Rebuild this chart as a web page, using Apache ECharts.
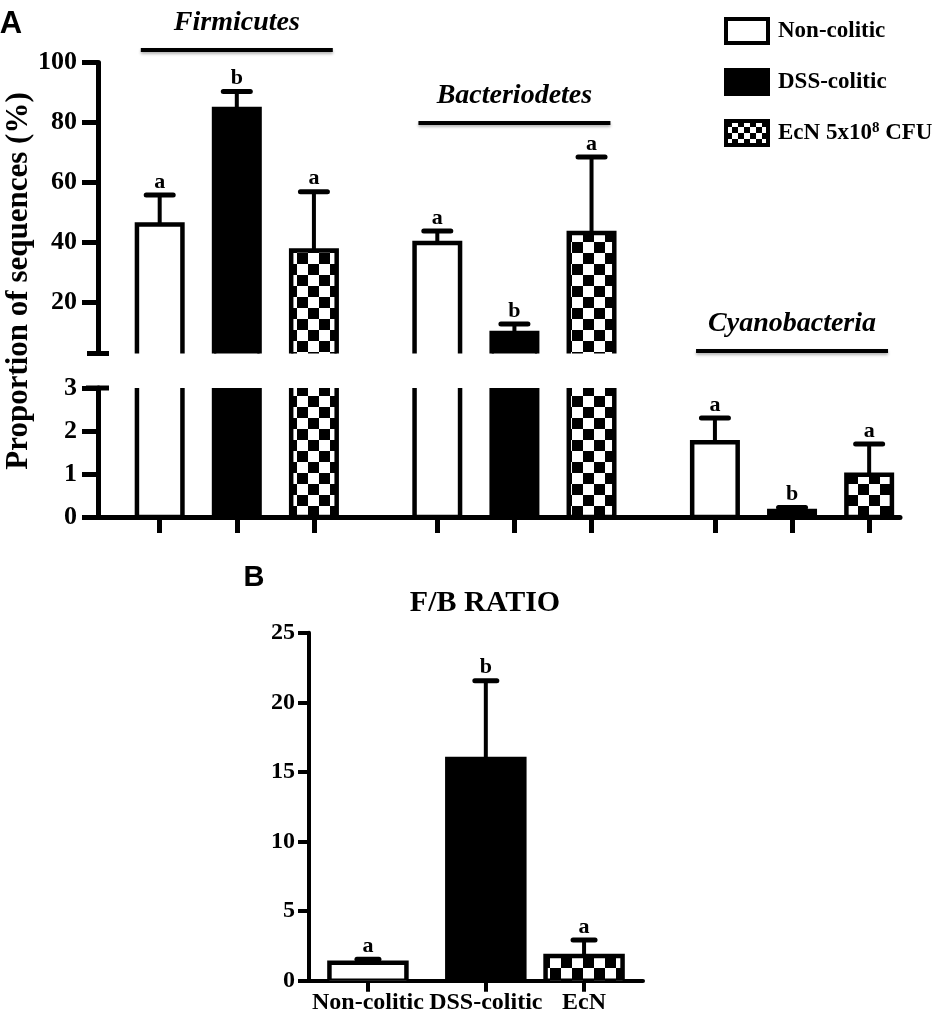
<!DOCTYPE html>
<html>
<head>
<meta charset="utf-8">
<script src="https://cdn.jsdelivr.net/npm/echarts@6/dist/echarts.min.js"></script>
<style>
html, body { margin: 0; padding: 0; background: #fff; }
#main { width: 950px; height: 1019px; }
</style>
</head>
<body>
<div id="main"></div>
<script>
// ---- data ----
var groups = ['Firmicutes', 'Bacteriodetes', 'Cyanobacteria'];
var treatments = ['Non-colitic', 'DSS-colitic', 'EcN 5x10⁸ CFU'];

var nonColiticMean = [46.0, 39.8, 1.74];
var nonColiticErr  = [9.8, 4.0, 0.56];
var dssColiticMean = [84.5, 9.8, 0.14];
var dssColiticErr  = [5.8, 3.0, 0.08];
var ecnMean        = [37.3, 43.2, 0.98];
var ecnErr         = [19.6, 25.3, 0.72];

var nonColiticLetters = ['a', 'a', 'a'];
var dssColiticLetters = ['b', 'b', 'b'];
var ecnLetters        = ['a', 'a', 'a'];

var upperTicks = [20, 40, 60, 80, 100];
var lowerTicks = [0, 1, 2, 3];

var fbCategories = ['Non-colitic', 'DSS-colitic', 'EcN'];
var fbMean    = [1.29, 15.93, 1.77];
var fbErr     = [0.25, 5.62, 1.15];
var fbLetters = ['a', 'b', 'a'];
var fbTicks   = [0, 5, 10, 15, 20, 25];

// ---- layout ----
var SERIF = "'Liberation Serif', 'Times New Roman', serif";
var SANS = "'Liberation Sans', Arial, sans-serif";

// axis ranges: upper / lower part of the broken axis, and panel B
var ranges = [[3, 100], [0, 3], [0, 25]];

// panel A: 53 thin slots on a category axis, bars every 5 slots, groups 18 apart
var SLOTS_A = 53;
function slotA(g, t) { return 4 + g * 18 + t * 5; }
var catsA = [];
for (var i = 0; i < SLOTS_A; i++) catsA.push('');
var tickSlotsA = [];
groups.forEach(function (g, gi) {
    treatments.forEach(function (t, ti) { tickSlotsA.push(slotA(gi, ti)); });
});
// panel B: 18 thin slots
var slotsB = [3, 9, 14];
var catsB = [];
for (var j = 0; j < 18; j++) catsB.push('');
slotsB.forEach(function (s, k) { catsB[s] = fbCategories[k]; });

// level (upper axis units) of the rule under each phylum name
var groupLineLevel = [104.2, 79.8, 3.8];

function checker(cell) {
    var c = document.createElement('canvas');
    c.width = c.height = cell * 2;
    var ctx = c.getContext('2d');
    ctx.fillStyle = '#fff';
    ctx.fillRect(0, 0, cell * 2, cell * 2);
    ctx.fillStyle = '#000';
    ctx.fillRect(0, 0, cell, cell);
    ctx.fillRect(cell, cell, cell, cell);
    return c;
}
var barPattern = { image: checker(11), repeat: 'repeat' };
var legendPattern = { image: checker(6), repeat: 'repeat' };
var fills = ['#fff', '#000', barPattern];

// bar + error bar + letter, drawn through the axis scales
function barSeries(name, idx, slots, mean, err, letters, fill, barW, capHalf) {
    var lo = ranges[idx][0], hi = ranges[idx][1];
    return {
        type: 'custom',
        name: name,
        xAxisIndex: idx,
        yAxisIndex: idx,
        clip: true,
        silent: true,
        encode: { x: 0, y: 1 },
        itemStyle: { color: fill, borderColor: '#000', borderWidth: 4 },
        data: mean.map(function (v, k) { return [slots[k], v, err[k]]; }),
        renderItem: function (params, api) {
            var x = api.value(0), m = api.value(1), s = api.value(2);
            var top = api.coord([x, m]);
            var base = api.coord([x, 0]);
            var cap = api.coord([x, m + s]);
            var children = [
                { type: 'rect', shape: { x: top[0] - barW / 2, y: top[1], width: barW, height: base[1] - top[1] },
                  style: { fill: fill, stroke: '#000', lineWidth: 4.5 } },
                { type: 'line', shape: { x1: top[0], y1: top[1], x2: cap[0], y2: cap[1] },
                  style: { stroke: '#000', lineWidth: 4 } }
            ];
            // the cap and letter only where the error bar ends inside this axis part
            if (m + s >= lo && m + s <= hi) {
                children.push({ type: 'line', shape: { x1: cap[0] - capHalf, y1: cap[1], x2: cap[0] + capHalf, y2: cap[1] },
                    style: { stroke: '#000', lineWidth: 5, lineCap: 'round' } });
                children.push({ type: 'text', x: cap[0], y: cap[1] - 13,
                    style: { text: letters[params.dataIndex], fill: '#000', font: 'bold 22px ' + SERIF,
                             align: 'center', verticalAlign: 'middle' } });
            }
            return { type: 'group', children: children };
        }
    };
}

var slotsPerTreat = treatments.map(function (t, ti) {
    return groups.map(function (g, gi) { return slotA(gi, ti); });
});
var meansA = [nonColiticMean, dssColiticMean, ecnMean];
var errsA = [nonColiticErr, dssColiticErr, ecnErr];
var lettersA = [nonColiticLetters, dssColiticLetters, ecnLetters];

var series = [];
[0, 1].forEach(function (gridIdx) {
    treatments.forEach(function (t, ti) {
        series.push(barSeries(t, gridIdx, slotsPerTreat[ti], meansA[ti], errsA[ti], lettersA[ti], fills[ti], 45.5, 13.5));
    });
});
// panel B, one series per treatment so the legend style matches
treatments.forEach(function (t, ti) {
    series.push(barSeries(t, 2, [slotsB[ti]], [fbMean[ti]], [fbErr[ti]], [fbLetters[ti]], fills[ti], 77, 11));
});
// phylum names with the rule under them
series.push({
    type: 'custom',
    xAxisIndex: 0,
    yAxisIndex: 0,
    clip: false,
    silent: true,
    encode: { x: 0, y: 1 },
    data: groups.map(function (g, gi) { return [slotA(gi, 1), groupLineLevel[gi]]; }),
    renderItem: function (params, api) {
        var p = api.coord([api.value(0), api.value(1)]);
        return {
            type: 'group',
            children: [
                { type: 'line', shape: { x1: p[0] - 96, y1: p[1], x2: p[0] + 96, y2: p[1] },
                  style: { stroke: '#000', lineWidth: 4, shadowBlur: 3, shadowOffsetY: 2, shadowColor: 'rgba(0,0,0,0.3)' } },
                { type: 'text', x: p[0], y: p[1] - 27,
                  style: { text: groups[params.dataIndex], fill: '#000', font: 'italic bold 28px ' + SERIF,
                           align: 'center', verticalAlign: 'middle' } }
            ]
        };
    }
});

var axisLineA = { show: true, onZero: false, lineStyle: { color: '#000', width: 5 } };

var myChart = echarts.init(document.getElementById('main'));

var option = {
    animation: false,
    backgroundColor: '#fff',
    legend: {
        orient: 'vertical',
        left: 719,
        top: 12,
        itemWidth: 42,
        itemHeight: 24,
        itemGap: 23,
        icon: 'rect',
        selectedMode: false,
        data: [
            { name: treatments[0], itemStyle: { color: '#fff', borderColor: '#000', borderWidth: 4 } },
            { name: treatments[1], itemStyle: { color: '#000', borderColor: '#000', borderWidth: 4 } },
            { name: treatments[2], itemStyle: { color: legendPattern, borderColor: '#000', borderWidth: 4 } }
        ],
        formatter: function (name) { return name.replace('⁸', '{sup|8}'); },
        textStyle: {
            color: '#000', fontFamily: SERIF, fontWeight: 'bold', fontSize: 23,
            padding: [0, 0, 0, 5],
            rich: {
                sup: { color: '#000', fontFamily: SERIF, fontWeight: 'bold', fontSize: 15, padding: [0, 0, 9, 0] }
            }
        }
    },
    grid: [
        { left: 98, top: 62.5, width: 802, height: 291, outerBoundsMode: 'none' },
        { left: 98, top: 388, width: 802, height: 129, outerBoundsMode: 'none' },
        { left: 309, top: 632.7, width: 334, height: 348, outerBoundsMode: 'none' }
    ],
    xAxis: [
        { gridIndex: 0, type: 'category', data: catsA, boundaryGap: false, show: false },
        {
            gridIndex: 1, type: 'category', data: catsA, boundaryGap: false,
            axisLine: axisLineA,
            axisTick: { show: true, length: 16, lineStyle: { color: '#000', width: 5 },
                        interval: function (idx) { return tickSlotsA.indexOf(idx) >= 0; } },
            axisLabel: { show: false },
            splitLine: { show: false }
        },
        {
            gridIndex: 2, type: 'category', data: catsB, boundaryGap: false,
            axisLine: { show: true, onZero: false, lineStyle: { color: '#000', width: 4 } },
            axisTick: { show: true, length: 11, lineStyle: { color: '#000', width: 4 },
                        interval: function (idx) { return slotsB.indexOf(idx) >= 0; } },
            axisLabel: { interval: function (idx) { return slotsB.indexOf(idx) >= 0; },
                         color: '#000', fontFamily: SERIF, fontWeight: 'bold', fontSize: 24, margin: 10 },
            splitLine: { show: false }
        }
    ],
    yAxis: [
        {
            gridIndex: 0, type: 'value', min: ranges[0][0], max: ranges[0][1],
            axisLine: axisLineA,
            axisTick: { show: true, customValues: upperTicks, length: 16, lineStyle: { color: '#000', width: 5 } },
            axisLabel: { customValues: upperTicks, color: '#000', fontFamily: SERIF, fontWeight: 'bold', fontSize: 26, margin: 21 },
            splitLine: { show: false }
        },
        {
            gridIndex: 1, type: 'value', min: ranges[1][0], max: ranges[1][1],
            axisLine: axisLineA,
            axisTick: { show: true, customValues: lowerTicks, length: 16, lineStyle: { color: '#000', width: 5 } },
            axisLabel: { customValues: lowerTicks, color: '#000', fontFamily: SERIF, fontWeight: 'bold', fontSize: 26, margin: 21 },
            splitLine: { show: false }
        },
        {
            gridIndex: 2, type: 'value', min: ranges[2][0], max: ranges[2][1],
            axisLine: { show: true, onZero: false, lineStyle: { color: '#000', width: 4 } },
            axisTick: { show: true, customValues: fbTicks, length: 11, lineStyle: { color: '#000', width: 4 } },
            axisLabel: { customValues: fbTicks, color: '#000', fontFamily: SERIF, fontWeight: 'bold', fontSize: 24, margin: 14 },
            splitLine: { show: false }
        }
    ],
    series: series
};

myChart.setOption(option);

// axis-break stubs and free texts, placed from the axes
var axisX = myChart.convertToPixel({ xAxisIndex: 1 }, 0);
var breakUp = myChart.convertToPixel({ yAxisIndex: 0 }, ranges[0][0]);
var breakLow = myChart.convertToPixel({ yAxisIndex: 1 }, ranges[1][1]);
myChart.setOption({
    graphic: [
        { type: 'line', shape: { x1: axisX - 11, y1: breakUp, x2: axisX + 11, y2: breakUp }, style: { stroke: '#000', lineWidth: 5 } },
        { type: 'line', shape: { x1: axisX - 12, y1: breakLow, x2: axisX + 11, y2: breakLow }, style: { stroke: '#000', lineWidth: 5 } },
        { type: 'text', x: 11, y: 24, style: { text: 'A', fill: '#000', font: 'bold 31px ' + SANS, align: 'center', verticalAlign: 'middle' } },
        { type: 'text', x: 254, y: 578, style: { text: 'B', fill: '#000', font: 'bold 29px ' + SANS, align: 'center', verticalAlign: 'middle' } },
        { type: 'text', x: 485, y: 603, style: { text: 'F/B RATIO', fill: '#000', font: 'bold 30px ' + SERIF, align: 'center', verticalAlign: 'middle' } },
        { type: 'text', x: 19, y: 281, rotation: Math.PI / 2,
          style: { text: 'Proportion of sequences (%)', fill: '#000', font: 'bold 31px ' + SERIF, align: 'center', verticalAlign: 'middle' } }
    ]
});
</script>
</body>
</html>
